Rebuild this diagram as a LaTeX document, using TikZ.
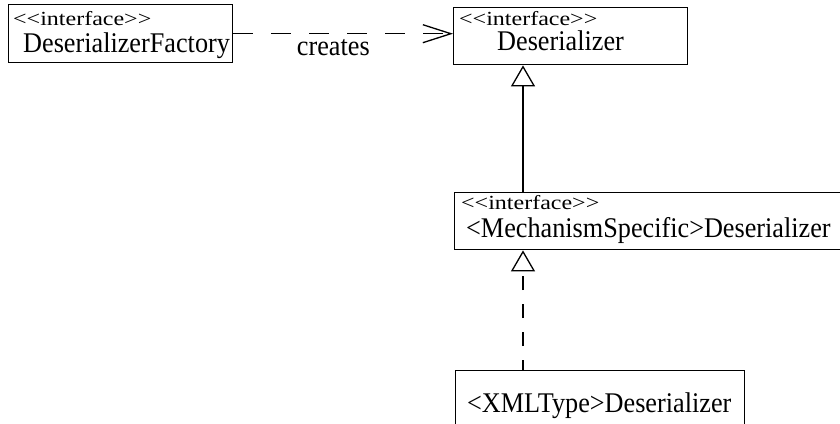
\documentclass[tikz,border=0pt]{standalone}
\usepackage{fontspec}
\setmainfont{Liberation Serif}
\newfontfamily\stereofont[FakeStretch=1.2]{Liberation Serif}
\newfontfamily\nomfont[FakeStretch=0.92]{Liberation Serif}
\usetikzlibrary{arrows.meta,calc}

\tikzset{
  boite/.style={draw, line width=1.4pt, rectangle, anchor=north west, inner sep=0pt},
  stereo/.style={anchor=base west, inner sep=0pt, font=\stereofont\fontsize{20}{20}\selectfont},
  nom/.style={anchor=base west, inner sep=0pt, font=\nomfont\fontsize{28.5}{28.5}\selectfont},
  etiquette/.style={inner sep=0pt, font=\nomfont\fontsize{28.5}{28.5}\selectfont},
  generalise/.style={line width=1.3pt, -{Triangle[open, length=21pt, width=24pt, line width=1.3pt]}},
  realise/.style={generalise, dash pattern=on 14pt off 14pt, dash phase=4pt},
  dependance/.style={line width=1.3pt, dash pattern=on 20pt off 18pt,
    -{Straight Barb[length=28pt, width=18pt, line width=1.3pt]}},
}

\begin{document}
\begin{tikzpicture}[x=1pt, y=-1pt]
    % cadre de l'image (la derniere boite est coupee en bas)
    \clip (0,0) rectangle (840,423);

    % les boites
    \node[boite, minimum width=224pt, minimum height=58pt] (fabrique) at (8,4) {};
    \node[boite, minimum width=234pt, minimum height=57pt] (deser) at (453,7) {};
    \node[boite, minimum width=420pt, minimum height=57pt] (mecanisme) at (454,192) {};
    \node[boite, minimum width=289pt, minimum height=80pt] (xml) at (455,370) {};

    % textes des boites
    \node[stereo] (fabrique-st) at ($(fabrique.north west)+(5,21)$) {<{}<interface>{}>};
    \node[nom] (fabrique-nom) at ($(fabrique.north west)+(15,48)$) {DeserializerFactory};

    \node[stereo] (deser-st) at ($(deser.north west)+(6,18)$) {<{}<interface>{}>};
    \node[nom] (deser-nom) at ($(deser.north west)+(44,43)$) {Deserializer};

    \node[stereo] (mecanisme-st) at ($(mecanisme.north west)+(7,17)$) {<{}<interface>{}>};
    \node[nom] (mecanisme-nom) at ($(mecanisme.north west)+(12,45)$) {<MechanismSpecific>Deserializer};

    \node[nom] (xml-nom) at ($(xml.north west)+(12,42)$) {<XMLType>Deserializer};

    % axe vertical des fleches d'heritage
    \coordinate (axe) at (523,0);

    % fabrique -> deserializer
    \draw[dependance] (fabrique.east) -- (fabrique.east -| deser.west)
        node[etiquette, pos=0.455, below=5pt] (cree) {creates};

    % heritage et realisation
    \draw[generalise] (mecanisme.north -| axe) -- (deser.south -| axe);
    \draw[realise] (xml.north -| axe) -- (mecanisme.south -| axe);
\end{tikzpicture}
\end{document}
